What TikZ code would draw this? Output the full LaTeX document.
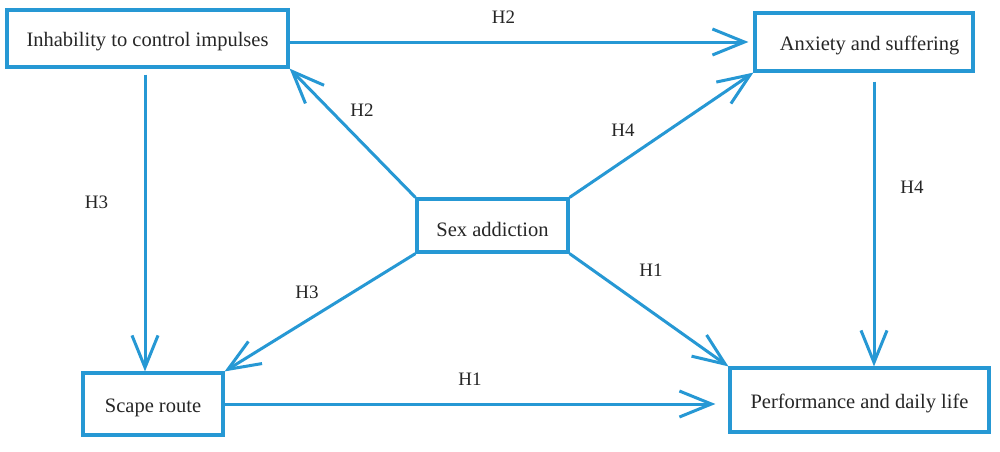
\documentclass[tikz,border=0pt]{standalone}
\usepackage{fontspec}
\setmainfont{Liberation Serif}
\usetikzlibrary{arrows.meta,calc}
\definecolor{lineblue}{RGB}{38,152,212}
\newcommand{\lowertext}[1]{\raisebox{-3.5pt}[\height][\depth]{#1}}
\tikzset{
  box/.style={draw=lineblue, line width=3.2pt, rectangle, inner sep=0pt, font=\fontsize{20.5}{24}\selectfont, text=black!85},
  arr/.style={draw=lineblue, line width=3pt, -{Straight Barb[length=32pt,width=26pt,line width=3pt]}},
  hlab/.style={font=\fontsize{19}{22}\selectfont, text=black!85, inner sep=0pt}
}
\begin{document}
\begin{tikzpicture}[x=1pt,y=-1pt]
\useasboundingbox[fill=white] (0,0) rectangle (1000,451);
\node[box, minimum width=281pt, minimum height=57pt] (b1) at (147.5,38.5) {\lowertext{Inhability to control impulses}};
\node[box, minimum width=218pt, minimum height=58pt] (b2) at (864,42) {\lowertext{\hspace*{11pt}Anxiety and suffering}};
\node[box, minimum width=151pt, minimum height=53pt] (b3) at (492.5,225.5) {\lowertext{Sex addiction}};
\node[box, minimum width=140pt, minimum height=62pt] (b4) at (153,404) {\lowertext{Scape route}};
\node[box, minimum width=259pt, minimum height=64pt] (b5) at (859.5,400) {\lowertext{Performance and daily life}};

\draw[arr] (b1.east |- b2.west) -- ([xshift=-5pt]b2.west);
\draw[arr] ($(b4.north |- b1.south)+(-8pt,-6pt)$) -- ([xshift=-8pt]b4.north);
\draw[arr] ($(b2.south)+(10pt,-9pt)$) coordinate (a2) -- (a2 |- b5.north);
\draw[arr] (b3.north west) -- (b1.south east);
\draw[arr] (b3.north east) -- (b2.south west);
\draw[arr] (b3.south west) -- (b4.north east);
\draw[arr] (b3.south east) -- (b5.north west);
\draw[arr] (b4.east) -- ([xshift=-13pt]b5.west |- b4.east);

\node[hlab] (l1) at (503.5,17) {H2};
\node[hlab] (l2) at (362,110) {H2};
\node[hlab] (l3) at (623,130) {H4};
\node[hlab] (l4) at (96.5,202) {H3};
\node[hlab] (l5) at (912,187) {H4};
\node[hlab] (l6) at (651,270) {H1};
\node[hlab] (l7) at (307,292) {H3};
\node[hlab] (l8) at (470,379) {H1};
\end{tikzpicture}
\end{document}
